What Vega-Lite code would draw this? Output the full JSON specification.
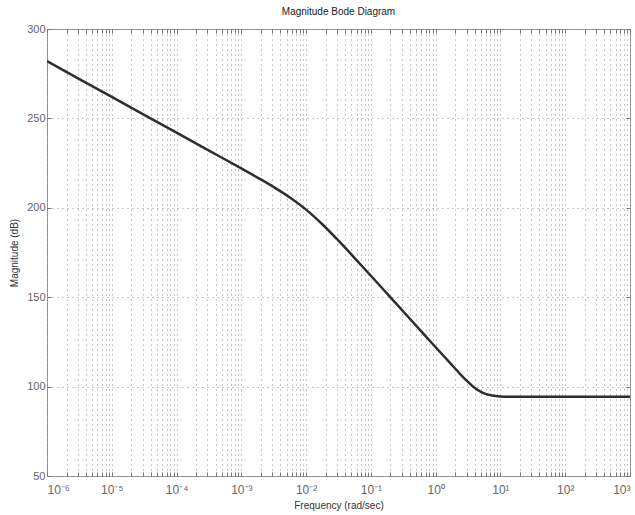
{
  "$schema": "https://vega.github.io/schema/vega-lite/v6.json",
  "width": 583,
  "height": 447,
  "autosize": {"type": "none"},
  "padding": {"left": 47, "top": 29, "right": 5, "bottom": 39},
  "background": "white",
  "config": {
    "font": "Liberation Sans",
    "view": {"stroke": "#999", "strokeWidth": 1},
    "axis": {"domain": false}
  },
  "title": {"text": "Magnitude Bode Diagram", "fontSize": 10, "fontWeight": "normal", "color": "#222", "font": "Liberation Sans", "offset": 6},
  "datasets": {
    "bode": [
      {"freq": 0.000001, "mag": 282.0},
      {"freq": 0.000003162, "mag": 272.0},
      {"freq": 0.00001, "mag": 262.0},
      {"freq": 0.00003162, "mag": 252.0},
      {"freq": 0.0001, "mag": 242.0},
      {"freq": 0.0003162, "mag": 232.0},
      {"freq": 0.001, "mag": 222.0},
      {"freq": 0.001778, "mag": 216.9},
      {"freq": 0.003162, "mag": 211.6},
      {"freq": 0.005623, "mag": 205.8},
      {"freq": 0.01, "mag": 199.0},
      {"freq": 0.01778, "mag": 190.8},
      {"freq": 0.03162, "mag": 181.6},
      {"freq": 0.05623, "mag": 171.9},
      {"freq": 0.1, "mag": 162.0},
      {"freq": 0.1778, "mag": 152.0},
      {"freq": 0.3162, "mag": 142.0},
      {"freq": 0.5623, "mag": 132.0},
      {"freq": 1, "mag": 122.0},
      {"freq": 1.778, "mag": 112.1},
      {"freq": 2.512, "mag": 106.2},
      {"freq": 3.162, "mag": 102.6},
      {"freq": 3.981, "mag": 99.4},
      {"freq": 5.012, "mag": 97.1},
      {"freq": 5.623, "mag": 96.2},
      {"freq": 6.31, "mag": 95.6},
      {"freq": 7.499, "mag": 95.0},
      {"freq": 10, "mag": 94.5},
      {"freq": 13.34, "mag": 94.3},
      {"freq": 17.78, "mag": 94.3},
      {"freq": 31.62, "mag": 94.3},
      {"freq": 100, "mag": 94.3},
      {"freq": 316.2, "mag": 94.3},
      {"freq": 1000, "mag": 94.3}
    ]
  },
  "layer": [
    {
      "data": {"name": "bode"},
      "mark": {"type": "line", "color": "#2e2e2e", "strokeWidth": 2.5, "interpolate": "monotone", "clip": true},
      "encoding": {
        "x": {
          "field": "freq", "type": "quantitative",
          "scale": {"type": "log", "domain": [0.000001, 1000], "nice": false},
          "axis": {
            "orient": "bottom",
            "title": "Frequency  (rad/sec)",
            "titleFontSize": 10, "titleFontWeight": "normal", "titleColor": "#333", "titlePadding": 5,
            "values": [0.000001,0.000002,0.000003,0.000004,0.000005,0.000006,0.000007,0.000008,0.000009,
                       0.00001,0.00002,0.00003,0.00004,0.00005,0.00006,0.00007,0.00008,0.00009,
                       0.0001,0.0002,0.0003,0.0004,0.0005,0.0006,0.0007,0.0008,0.0009,
                       0.001,0.002,0.003,0.004,0.005,0.006,0.007,0.008,0.009,
                       0.01,0.02,0.03,0.04,0.05,0.06,0.07,0.08,0.09,
                       0.1,0.2,0.3,0.4,0.5,0.6,0.7,0.8,0.9,
                       1,2,3,4,5,6,7,8,9,
                       10,20,30,40,50,60,70,80,90,
                       100,200,300,400,500,600,700,800,900,1000],
            "labelExpr": "abs(log(datum.value)/LN10 - round(log(datum.value)/LN10)) < 0.000001 ? ['10⁻⁶','10⁻⁵','10⁻⁴','10⁻³','10⁻²','10⁻¹','10⁰','10¹','10²','10³'][round(log(datum.value)/LN10)+6] : ''",
            "labelOverlap": false,
            "labelFontSize": 12, "labelColor": "#666", "labelPadding": 12,
            "ticks": true, "tickSize": -4, "tickColor": "#777",
            "grid": true, "gridDash": [1, 4], "gridColor": "#777", "gridOpacity": 0.8
          }
        },
        "y": {
          "field": "mag", "type": "quantitative",
          "scale": {"domain": [50, 300], "nice": false, "zero": false},
          "axis": {
            "orient": "left",
            "title": "Magnitude (dB)",
            "titleFontSize": 10, "titleFontWeight": "normal", "titleColor": "#333", "titlePadding": 7,
            "values": [50, 100, 150, 200, 250, 300],
            "labelFontSize": 11, "labelColor": "#666", "labelPadding": 6,
            "ticks": true, "tickSize": -4, "tickColor": "#777",
            "grid": true, "gridDash": [1, 4], "gridColor": "#777", "gridOpacity": 0.8
          }
        }
      }
    },
    {
      "data": {"name": "bode"},
      "mark": {"type": "line", "opacity": 0},
      "encoding": {
        "x": {
          "field": "freq", "type": "quantitative",
          "axis": {
            "orient": "top", "title": null, "labels": false, "grid": false,
            "values": [0.000001,0.000002,0.000003,0.000004,0.000005,0.000006,0.000007,0.000008,0.000009,
                       0.00001,0.00002,0.00003,0.00004,0.00005,0.00006,0.00007,0.00008,0.00009,
                       0.0001,0.0002,0.0003,0.0004,0.0005,0.0006,0.0007,0.0008,0.0009,
                       0.001,0.002,0.003,0.004,0.005,0.006,0.007,0.008,0.009,
                       0.01,0.02,0.03,0.04,0.05,0.06,0.07,0.08,0.09,
                       0.1,0.2,0.3,0.4,0.5,0.6,0.7,0.8,0.9,
                       1,2,3,4,5,6,7,8,9,
                       10,20,30,40,50,60,70,80,90,
                       100,200,300,400,500,600,700,800,900,1000],
            "ticks": true, "tickSize": -4, "tickColor": "#777"
          }
        },
        "y": {
          "field": "mag", "type": "quantitative",
          "axis": {
            "orient": "right", "title": null, "labels": false, "grid": false,
            "values": [50, 100, 150, 200, 250, 300],
            "ticks": true, "tickSize": -4, "tickColor": "#777"
          }
        }
      }
    }
  ],
  "resolve": {"axis": {"x": "independent", "y": "independent"}}
}
